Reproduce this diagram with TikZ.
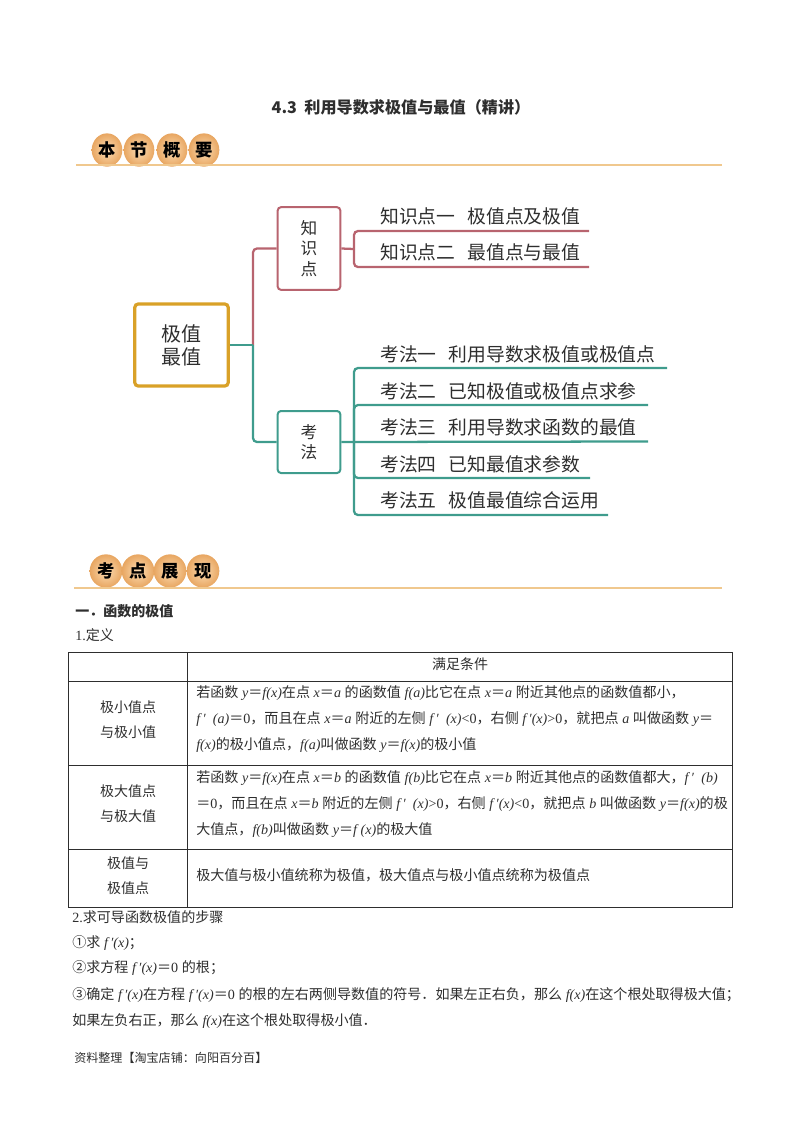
\documentclass[tikz,border=0pt]{standalone}
\usepackage{fontspec}
\setmainfont{Noto Sans CJK SC}
\newfontfamily\latf{Liberation Serif}
\usetikzlibrary{shapes.geometric,positioning}
\definecolor{egg}{HTML}{E8A661}
\definecolor{eggin}{HTML}{FCDDB4}
\definecolor{rule}{HTML}{F0C88E}
\definecolor{gold}{HTML}{D9A128}
\definecolor{rose}{HTML}{B8646F}
\definecolor{teal}{HTML}{3F9C8D}
\definecolor{ink}{HTML}{2E2E2E}
\newcommand\vi[1]{{\latf\itshape #1}}
\newcommand\vr[1]{{\latf #1}}
\newcommand\dprime{{\latf\itshape f\,′}}
\newcommand\widesp{\spaceskip=.26em\relax}
\begin{document}
\begin{tikzpicture}[
    x=.75pt,y=-.75pt,
    eggnode/.style={ellipse,inner sep=0,minimum width=23pt,minimum height=25pt,
      inner color=eggin,outer color=egg,font=\fontsize{13}{14}\selectfont\bfseries},
    headrule/.style={rule,line width=1.9pt},
    rootbox/.style={draw=gold,line width=2.4pt,rounded corners=2.5pt,minimum width=70pt,
      minimum height=61.5pt,align=center,text=ink,font=\fontsize{15}{17.25}\selectfont},
    kindbox/.style={line width=1.5pt,rounded corners=2.5pt,minimum width=47pt,align=center,
      text=ink,font=\fontsize{12.5}{15.3}\selectfont},
    rosebr/.style={rose,line width=1.7pt,rounded corners=3pt},
    tealbr/.style={teal,line width=1.7pt,rounded corners=3pt},
    item/.style={anchor=west,inner sep=0,text=ink,font=\fontsize{14.1}{16}\selectfont},
    body/.style={anchor=west,inner sep=0,text=ink,font=\fontsize{10.55}{12}\selectfont\widesp},
    cell/.style={body,anchor=center,align=center,font=\fontsize{10.5}{18.6}\selectfont},
    grid/.style={ink,line width=.7pt}
    ]
    \useasboundingbox (0,0) rectangle (800,1132);

    \node [body,anchor=center,font=\fontsize{12.1}{13}\selectfont\bfseries] (title) at (401,107)
      {4.3\ \ 利用导数求极值与最值（精讲）};

    % section heads
    \foreach \x/\t [count=\i] in {107/本,139/节,172/概,204/要} {
      \node [eggnode] (gaiyao\i) at (\x,150) {\t};
    }
    \draw [headrule] (76,165) -- (722,165);
    \foreach \x/\t [count=\i] in {106/考,138/点,170/展,203/现} {
      \node [eggnode,minimum width=24.5pt] (kaodian\i) at (\x,571) {\t};
    }
    \draw [headrule] (74,588) -- (722,588);

    % map boxes
    \node [rootbox] (root) at (181.5,345) {极值\\最值};
    \node [kindbox,draw=rose,minimum height=62pt] (zsd) at (309,248.5) {知\\识\\点};
    \node [kindbox,draw=teal,minimum height=46.5pt] (kf) at (309,442) {考\\法};

    % map items
    \foreach \y/\t [count=\i] in {216/知识点一\hspace{9pt}极值点及极值,252/知识点二\hspace{9pt}最值点与最值} {
      \node [item] (zs\i) at (380,\y) {\t};
    }
    \foreach \y/\t [count=\i] in {354/考法一\hspace{9pt}利用导数求极值或极值点,
        391/考法二\hspace{9pt}已知极值或极值点求参,
        427/考法三\hspace{9pt}利用导数求函数的最值,
        464/考法四\hspace{9pt}已知最值求参数,
        500/考法五\hspace{9pt}极值最值综合运用} {
      \node [item] (kf\i) at (380,\y) {\t};
    }

    % branch points and line ends
    \coordinate (fork) at (253,345);
    \coordinate (jzs) at (354,249);
    \coordinate (jkf) at (354,441.5);
    \coordinate (zse1) at (589,231);
    \coordinate (zse2) at (589,267);
    \coordinate (kfe1) at (667,368);
    \coordinate (kfe2) at (648,405);
    \coordinate (kfe3) at (648,441.5);
    \coordinate (kfe4) at (590,478);
    \coordinate (kfe5) at (608,515);

    % join them
    \draw [rosebr] (fork) |- (zsd.west);
    \draw [tealbr] (root.east) -- (fork);
    \draw [tealbr] (fork) |- (kf.west);
    \draw [rosebr] (zsd.east) -- (jzs);
    \foreach \i in {1,2} {
      \draw [rosebr] (jzs) |- (zse\i);
    }
    \draw [tealbr] (kf.east) -- (kfe3);
    \foreach \i in {1,2,4,5} {
      \draw [tealbr] (jkf) |- (kfe\i);
    }

    \node [body,font=\fontsize{10.5}{12}\selectfont\bfseries] (yi) at (75,611) {一．函数的极值};
    \node [body] (dingyi) at (75,635) {\vr{1.}定义};

    % table
    \draw [grid] (68,652) rectangle (732,907);
    \foreach \y in {681,765,849} {
      \draw [grid] (68,\y) -- (732,\y);
    }
    \draw [grid] (187,652) -- (187,907);

    \node [cell] (head) at (460,664) {满足条件};
    \node [cell] (lab1) at (128,720) {极小值点\\与极小值};
    \node [cell] (lab2) at (128,804) {极大值点\\与极大值};
    \node [cell] (lab3) at (128,876) {极值与\\极值点};

    \node [body] (r1a) at (196,693) {若函数 \vi{y}＝\vi{f(x)}在点 \vi{x}＝\vi{a} 的函数值 \vi{f(a)}比它在点 \vi{x}＝\vi{a} 附近其他点的函数值都小，};
    \node [body] (r1b) at (196,719) {\dprime\ \ \vi{(a)}＝\vr{0}，而且在点 \vi{x}＝\vi{a} 附近的左侧 \dprime\ \ \vi{(x)}\vr{<0}，右侧 \dprime\vi{(x)}\vr{>0}，就把点 \vi{a} 叫做函数 \vi{y}＝};
    \node [body] (r1c) at (196,745) {\vi{f(x)}的极小值点，\vi{f(a)}叫做函数 \vi{y}＝\vi{f(x)}的极小值};
    \node [body] (r2a) at (196,778) {若函数 \vi{y}＝\vi{f(x)}在点 \vi{x}＝\vi{b} 的函数值 \vi{f(b)}比它在点 \vi{x}＝\vi{b} 附近其他点的函数值都大，\dprime\ \ \vi{(b)}};
    \node [body] (r2b) at (196,804) {＝\vr{0}，而且在点 \vi{x}＝\vi{b} 附近的左侧 \dprime\ \ \vi{(x)}\vr{>0}，右侧 \dprime\vi{(x)}\vr{<0}，就把点 \vi{b} 叫做函数 \vi{y}＝\vi{f(x)}的极};
    \node [body] (r2c) at (196,830) {大值点，\vi{f(b)}叫做函数 \vi{y}＝\vi{f\ (x)}的极大值};
    \node [body] (r3) at (196,875) {极大值与极小值统称为极值，极大值点与极小值点统称为极值点};

    % steps
    \node [body] (buzhou) at (72,917) {\vr{2.}求可导函数极值的步骤};
    \node [body] (s1) at (72,943) {①求 \dprime\vi{(x)}；};
    \node [body] (s2) at (72,968) {②求方程 \dprime\vi{(x)}＝\vr{0} 的根；};
    \node [body] (s3) at (72,995) {③确定 \dprime\vi{(x)}在方程 \dprime\vi{(x)}＝\vr{0} 的根的左右两侧导数值的符号．如果左正右负，那么 \vi{f(x)}在这个根处取得极大值；};
    \node [body] (s3b) at (72,1021) {如果左负右正，那么 \vi{f(x)}在这个根处取得极小值．};

    \node [body,font=\fontsize{9.05}{11}\selectfont] (foot) at (74,1058) {资料整理【淘宝店铺：向阳百分百】};
\end{tikzpicture}
\end{document}
